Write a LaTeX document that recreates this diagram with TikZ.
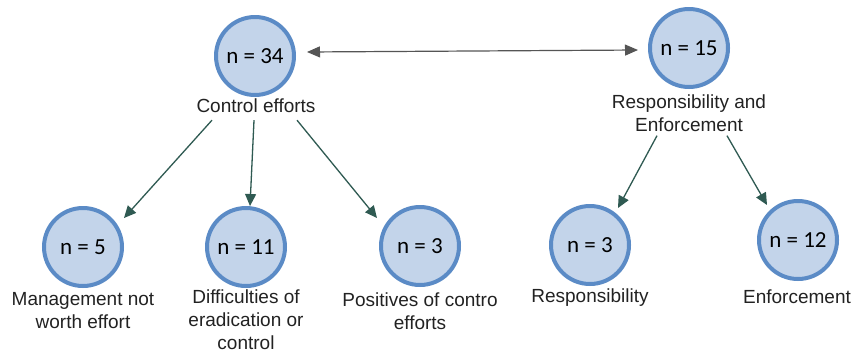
\documentclass[tikz,border=0pt]{standalone}
\usepackage{fontspec}
\setmainfont{Liberation Sans}
\newfontfamily\nfont{Carlito}
\usetikzlibrary{arrows.meta,calc}
\definecolor{circblue}{HTML}{5B8BC6}
\definecolor{circfill}{HTML}{C3D4EA}
\definecolor{arrgreen}{HTML}{2F5A52}
\definecolor{arrgray}{HTML}{555555}
\definecolor{textgray}{HTML}{222222}
\begin{document}
\begin{tikzpicture}[x=1pt,y=-1pt,
  circ/.style={circle, draw=circblue, fill=circfill, line width=4pt, minimum size=78pt, inner sep=0pt, text=black, font=\nfont\fontsize{23}{27}\selectfont},
  lab/.style={align=center, font=\fontsize{19}{23}\selectfont, text=textgray, inner sep=0pt},
  arr/.style={draw=arrgreen, line width=1.3pt, -{Triangle[length=12pt,width=11pt]}},
  dbl/.style={draw=arrgray, line width=1.2pt, {Triangle[length=13pt,width=11pt]}-{Triangle[length=13pt,width=11pt]}}]
\useasboundingbox (0,0) rectangle (853,354);
\fill[white] (0,0) rectangle (853,354);

\node[circ] (c34) at (255,56) {n = 34};
\node[circ] (c15) at (689,48) {n = 15};
\node[circ] (c5) at (83,247) {n = 5};
\node[circ] (c11) at (246,247) {n = 11};
\node[circ] (c3a) at (420,246) {n = 3};
\node[circ] (c3b) at (590,245) {n = 3};
\node[circ] (c12) at (798,240) {n = 12};

\node[lab] (l34) at (256,106) {Control efforts};
\node[lab] (l15) at (689,113) {Responsibility and\\Enforcement};
\node[lab] (l5) at (83,311) {Management not\\worth effort};
\node[lab] (l11) at (246,320) {Difficulties of\\eradication or\\control};
\node[lab] (l3a) at (420,311) {Positives of contro\\efforts};
\node[lab] (l3b) at (590,298) {Responsibility};
\node[lab] (l12) at (797,297) {Enforcement};

\draw[dbl] ($(c34.east)+(11,-4)$) -- ($(c15.west)+(-10,2)$);

\draw[arr] ($(l34.south)+(-44,7)$) -- ($(c5)+(41,-29)$);
\draw[arr] ($(l34.south)+(-2,7)$) -- ($(c11)+(4,-41)$);
\draw[arr] ($(l34.south)+(41,7)$) -- ($(c3a)+(-43,-28)$);

\draw[arr] ($(l15.south)+(-32,4)$) -- ($(c3b)+(28,-37)$);
\draw[arr] ($(l15.south)+(38,4)$) -- ($(c12)+(-31,-35)$);
\end{tikzpicture}
\end{document}
